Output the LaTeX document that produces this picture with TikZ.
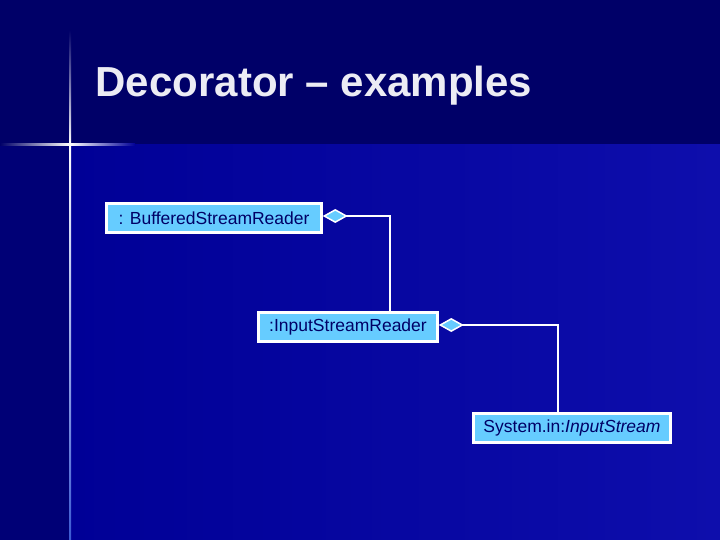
\documentclass[tikz,border=0pt]{standalone}
\usepackage{fontspec}
\setmainfont{Liberation Sans}
\usetikzlibrary{arrows.meta,positioning,calc}

\definecolor{slidetop}{RGB}{0,0,104}
\definecolor{slidelow}{RGB}{0,0,150}
\definecolor{slidelowr}{RGB}{14,14,172}
\definecolor{slideleft}{RGB}{0,0,118}
\definecolor{flareblue}{RGB}{60,90,210}
\definecolor{objblue}{RGB}{102,204,255}
\definecolor{objtext}{RGB}{0,0,102}
\definecolor{titlegray}{RGB}{236,236,244}

\begin{document}
\begin{tikzpicture}[x=1pt,y=-1pt,semithick]

    \tikzstyle{object}=[draw=white,line width=2.5pt,fill=objblue,text=objtext,inner sep=0pt,font=\fontsize{17.5}{20}\selectfont]
    \tikzstyle{aggregation}=[{Diamond[length=25pt,width=14pt,fill=objblue,line width=1.5pt]}-,draw=white,line width=1.8pt]

    % slide background
    \useasboundingbox (0,0) rectangle (720,540);
    \fill[slidetop] (0,0) rectangle (720,540);
    \shade[left color=slidelow,right color=slidelowr] (70,145) rectangle (720,540);
    \fill[slideleft] (0,145) rectangle (70,540);

    % flare
    \shade[top color=slidetop,bottom color=white] (69,30) rectangle (71,145);
    \shade[top color=white,bottom color=flareblue] (69,145) rectangle (71,540);
    \shade[left color=slidetop,right color=white] (0,144) rectangle (70,146);
    \shade[left color=white,right color=slidelow] (70,144) rectangle (135,146);

    \node[anchor=base west,text=titlegray,font=\bfseries\fontsize{42}{50}\selectfont] (title) at (92,97) {Decorator – examples};

    \node[object,minimum width=215pt,minimum height=29pt] (BSR) at (214,218)  {: BufferedStreamReader};
    \node[object,minimum width=179pt,minimum height=29pt] (ISR) at (348,327)  {:InputStreamReader};
    \node[object,minimum width=197pt,minimum height=29pt] (SIN) at (572,428)  {System.in:\textit{InputStream}};

    \draw[aggregation] ([yshift=2pt]BSR.east) -| ([xshift=42pt]ISR.north);
    \draw[aggregation] ([yshift=2pt]ISR.east) -| ([xshift=-14pt]SIN.north);
\end{tikzpicture}
\end{document}
